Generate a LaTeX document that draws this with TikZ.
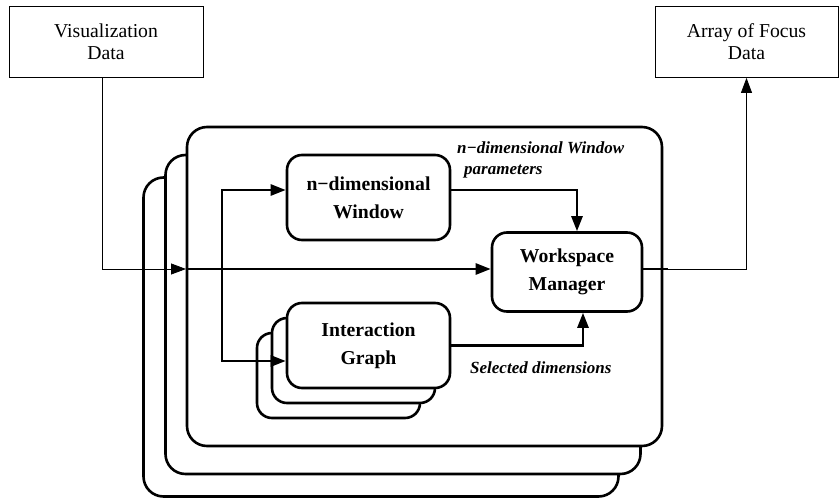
\documentclass[tikz,border=0pt]{standalone}
\usepackage{fontspec}
\setmainfont{Liberation Serif}
\usetikzlibrary{arrows.meta}

\begin{document}
\begin{tikzpicture}[x=1pt, y=-1pt,
	databox/.style={rectangle, draw, line width=0.8pt, align=center, inner sep=0pt, font=\fontsize{19.7}{22}\selectfont},
	frame/.style={rectangle, draw, fill=white, line width=2.6pt, rounded corners=20pt, inner sep=0pt, minimum width=475pt, minimum height=319pt},
	unit/.style={rectangle, draw, fill=white, line width=2.6pt, rounded corners=15pt, align=center, inner sep=0pt, minimum width=163pt, minimum height=85pt, font=\fontsize{19.7}{28}\selectfont\bfseries},
	note/.style={anchor=north west, inner sep=0pt, align=left, font=\fontsize{17}{21}\selectfont\bfseries\itshape},
	flow/.style={line width=2.6pt, -{Triangle[length=15pt,width=11pt]}},
	feed/.style={line width=0.8pt, -{Triangle[length=15pt,width=11pt]}}]
	\useasboundingbox (0,0) rectangle (839,498);

	\node at (106,41.5) [databox, minimum width=194pt, minimum height=71pt] (vis) {Visualization\\Data};
	\node at (746.5,42) [databox, minimum width=183pt, minimum height=71pt] (focus) {Array of Focus\\Data};

	% stacked workspaces
	\node at (381,337) [frame] (ws3) {};
	\node at (403,314.5) [frame] (ws2) {};
	\node at (424.5,286.5) [frame] (ws1) {};

	\node at (368.5,197.5) [unit] (nwin) {n−dimensional\\Window};
	\node at (567,272) [unit, minimum width=150pt, minimum height=79pt] (wm) {Workspace\\Manager};
	\node at (338.5,375.5) [unit] (ig3) {};
	\node at (353.5,360.5) [unit] (ig2) {};
	\node at (368.5,345.5) [unit] (ig) {Interaction\\Graph};

	\node at (457,142) [note] (params) {n−dimensional Window\\\hspace*{7pt}parameters};
	\node at (470,362) [note] (seldim) {Selected dimensions};

	\coordinate (entry) at (186,269);
	\coordinate (forktop) at (222,190);
	\coordinate (forkbot) at (222,361);
	\coordinate (exit) at (668,269);

	\draw [feed] ([xshift=-4pt]vis.south) |- (entry);
	\draw [flow] (entry) -- (entry -| wm.west);
	\draw [flow, {Triangle[length=15pt,width=11pt]}-{Triangle[length=15pt,width=11pt]}] (forktop -| nwin.west) -- (forktop) -- (forkbot) -- (forkbot -| ig.west);
	\draw [flow] (forktop -| nwin.east) -| ([xshift=10pt]wm.north);
	\draw [flow] (ig.east) -| ([xshift=16pt]wm.south);
	\draw [line width=2.6pt] (exit -| wm.east) -- (exit);
	\draw [feed] (exit) -| (focus.south);
\end{tikzpicture}
\end{document}
